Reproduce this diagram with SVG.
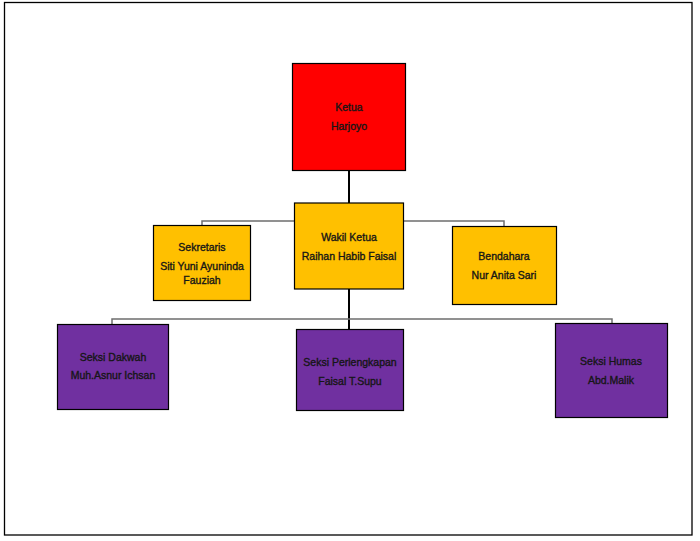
<svg xmlns="http://www.w3.org/2000/svg" width="700" height="541" viewBox="0 0 700 541">
  <style>
    .box { stroke: #000; stroke-width: 1.2; }
    .red { fill: #FF0000; }
    .gold { fill: #FFC000; }
    .purple { fill: #7030A0; }
    .lbl { font-family: "Liberation Sans", Arial, sans-serif; font-size: 10.5px; fill: #161616; stroke: #161616; stroke-width: 0.35; text-anchor: middle; }
    .trunk { stroke: #000; stroke-width: 2; fill: none; }
    .branch { stroke: #6e6e6e; stroke-width: 1.5; fill: none; }
  </style>
  <rect x="0" y="0" width="700" height="541" fill="#fff"/>
  <!-- page frame -->
  <rect x="4.5" y="2.5" width="687.5" height="532.5" fill="none" stroke="#000" stroke-width="1.3"/>

  <g id="connectors">
    <line class="trunk" x1="349" y1="170" x2="349" y2="203"/>
    <line class="trunk" x1="349" y1="289" x2="349" y2="329"/>
    <polyline class="branch" points="202,225 202,221 294,221"/>
    <polyline class="branch" points="403,221 504,221 504,226"/>
    <polyline class="branch" points="112,324 112,319 612,319 612,323"/>
  </g>

  <g id="ketua">
    <rect class="box red" x="292.5" y="63.5" width="113" height="107"/>
    <text class="lbl" x="349" y="111">Ketua</text>
    <text class="lbl" x="349" y="130">Harjoyo</text>
  </g>

  <g id="wakil-ketua">
    <rect class="box gold" x="294.5" y="203" width="109" height="86"/>
    <text class="lbl" x="349" y="241">Wakil Ketua</text>
    <text class="lbl" x="349" y="260">Raihan Habib Faisal</text>
  </g>

  <g id="sekretaris">
    <rect class="box gold" x="153.5" y="225.5" width="97" height="75"/>
    <text class="lbl" x="202" y="251">Sekretaris</text>
    <text class="lbl" x="202" y="270">Siti Yuni Ayuninda</text>
    <text class="lbl" x="202" y="284">Fauziah</text>
  </g>

  <g id="bendahara">
    <rect class="box gold" x="452.5" y="226.5" width="104" height="78"/>
    <text class="lbl" x="504" y="260">Bendahara</text>
    <text class="lbl" x="504" y="279">Nur Anita Sari</text>
  </g>

  <g id="seksi-dakwah">
    <rect class="box purple" x="57.5" y="324.5" width="111" height="85"/>
    <text class="lbl" x="113" y="361">Seksi Dakwah</text>
    <text class="lbl" x="113" y="379">Muh.Asnur Ichsan</text>
  </g>

  <g id="seksi-perlengkapan">
    <rect class="box purple" x="296.5" y="329.5" width="107" height="81"/>
    <text class="lbl" x="350" y="366">Seksi Perlengkapan</text>
    <text class="lbl" x="350" y="385">Faisal T.Supu</text>
  </g>

  <g id="seksi-humas">
    <rect class="box purple" x="555.5" y="323.5" width="112" height="94"/>
    <text class="lbl" x="611" y="365">Seksi Humas</text>
    <text class="lbl" x="611" y="384">Abd.Malik</text>
  </g>
</svg>
